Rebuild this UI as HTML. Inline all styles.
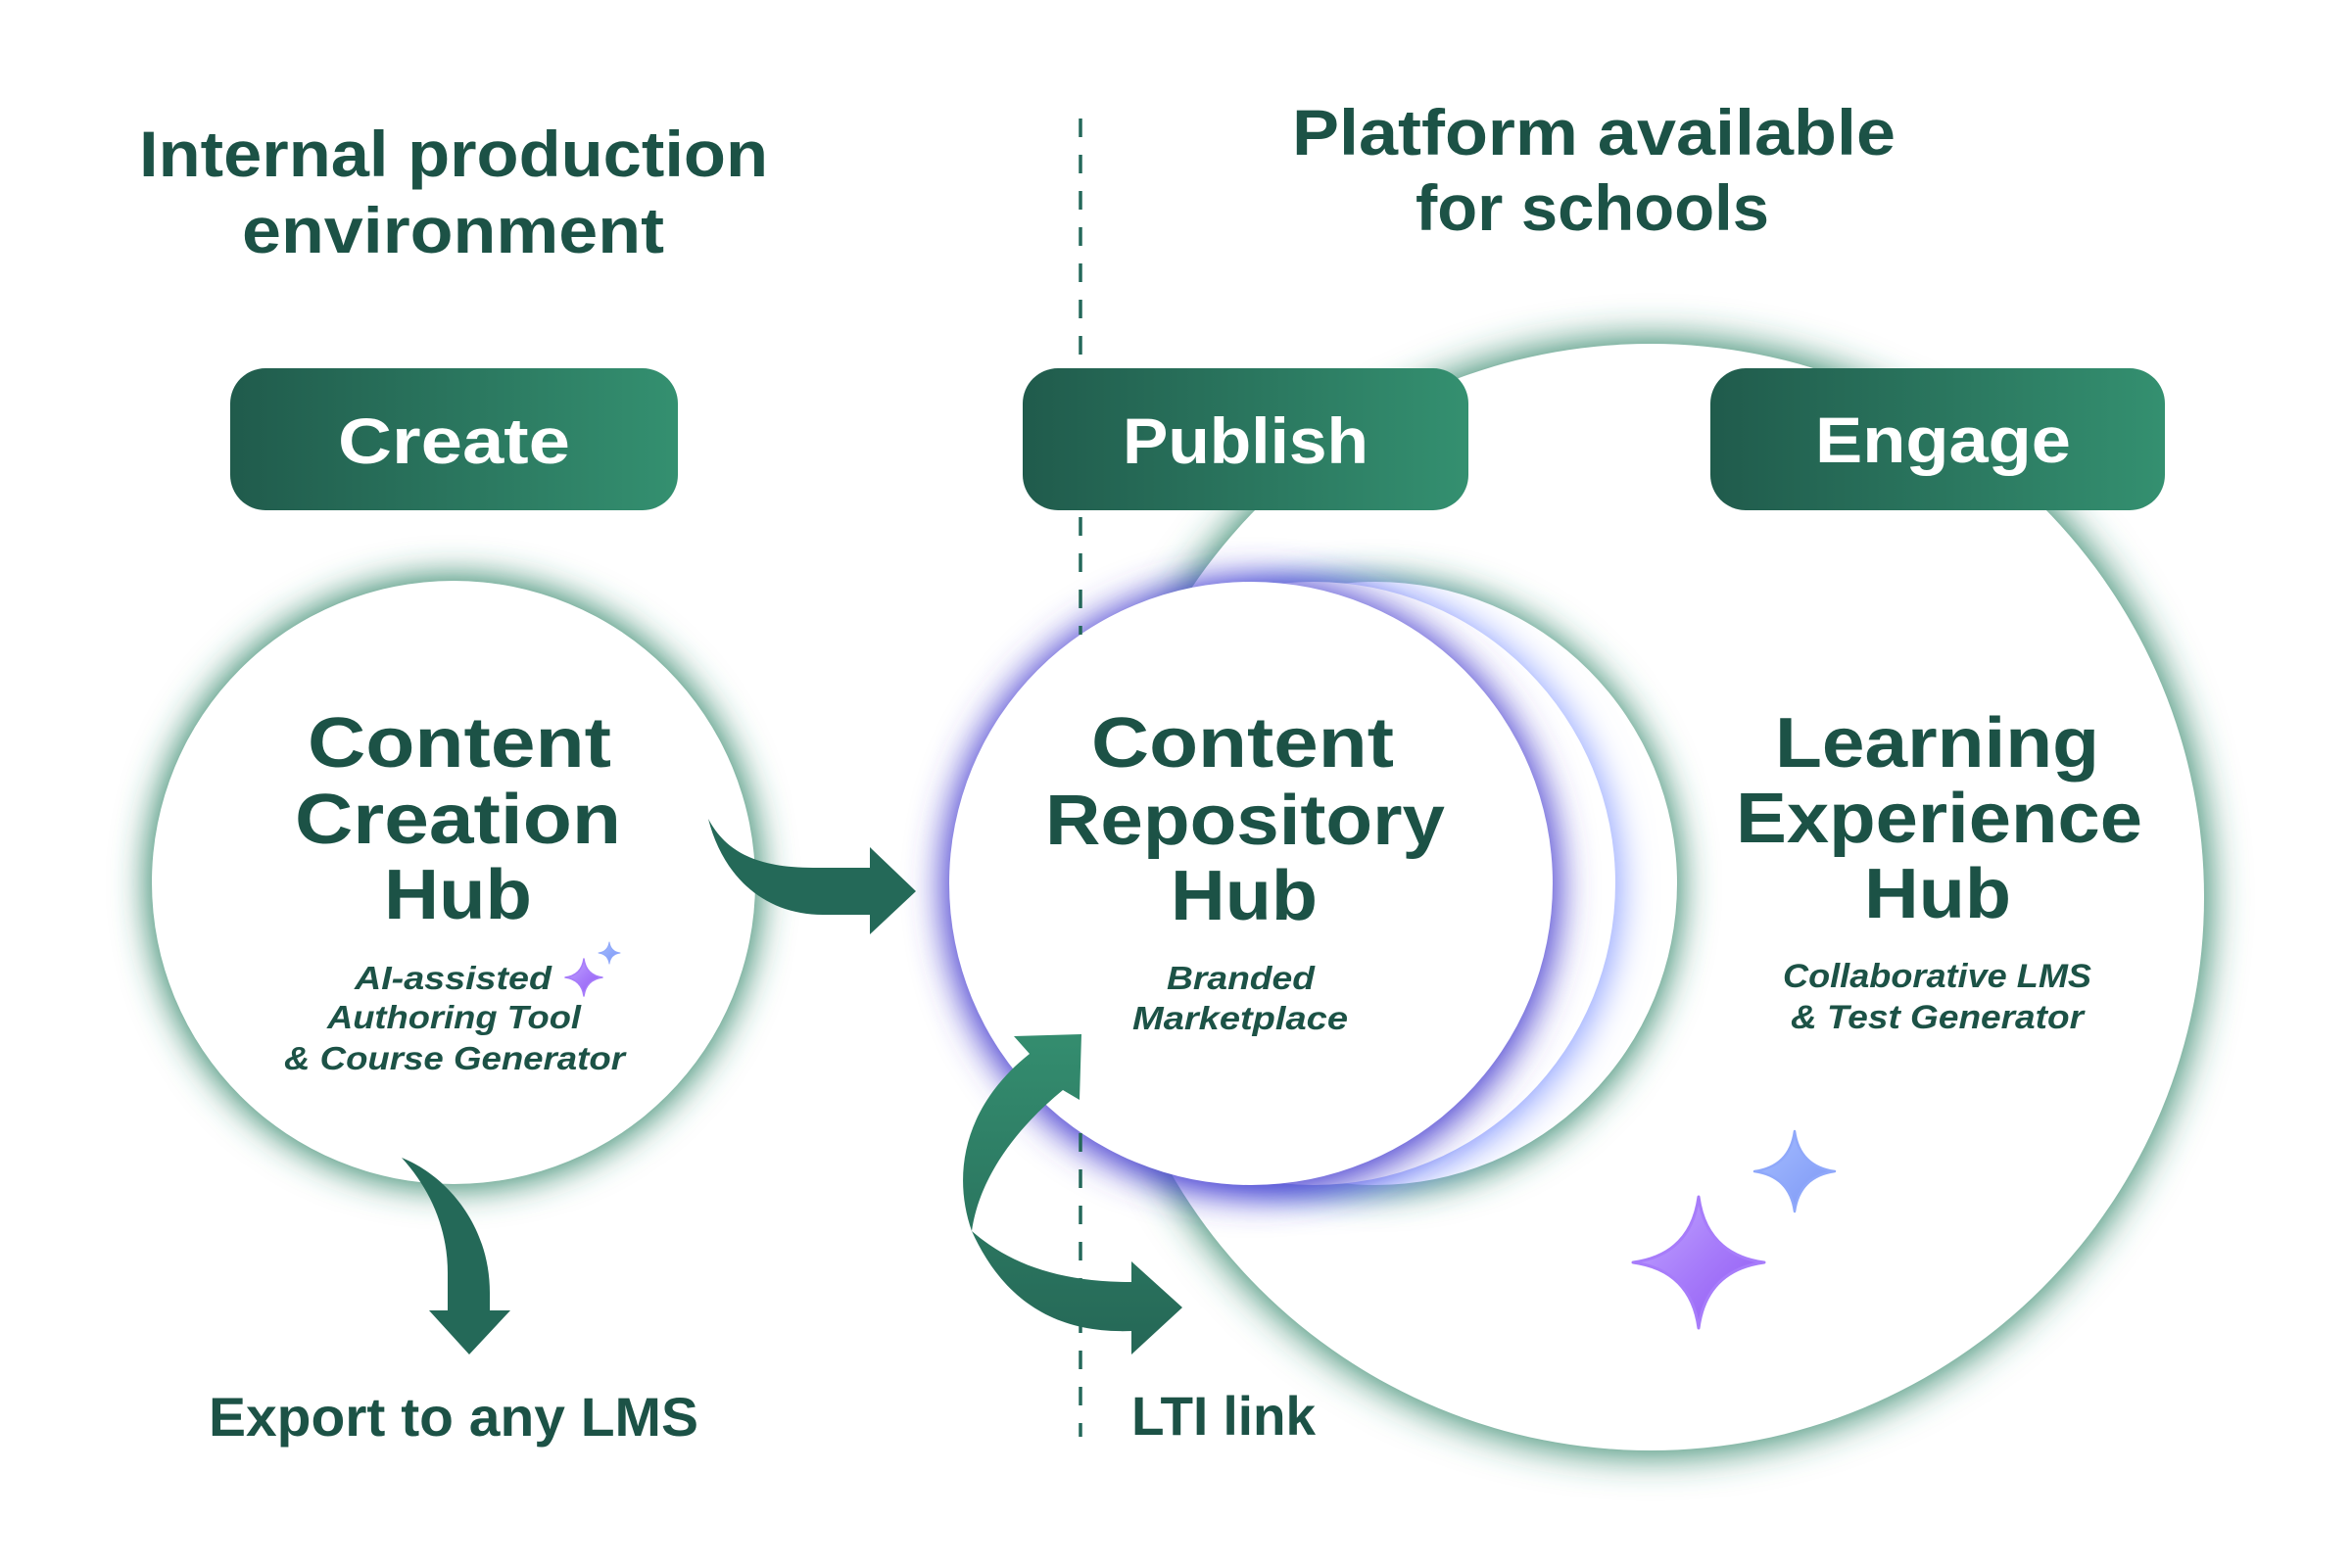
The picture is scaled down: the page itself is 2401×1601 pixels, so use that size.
<!DOCTYPE html>
<html>
<head>
<meta charset="utf-8">
<style>
html,body{margin:0;padding:0;background:#ffffff;}
svg{display:block;}
text{font-family:"Liberation Sans","DejaVu Sans",sans-serif;font-weight:700;}
.t{fill:#1c5246;}
.w{fill:#ffffff;}
.i{font-style:italic;}
</style>
</head>
<body>
<svg width="2401" height="1601" viewBox="0 0 2401 1601" xmlns="http://www.w3.org/2000/svg">
<defs>
  <filter id="blur" x="-50%" y="-50%" width="200%" height="200%">
    <feGaussianBlur stdDeviation="18"/>
  </filter>
  <filter id="blur2" x="-50%" y="-50%" width="200%" height="200%">
    <feGaussianBlur stdDeviation="20"/>
  </filter>
  <linearGradient id="box" x1="0" y1="0" x2="1" y2="0">
    <stop offset="0" stop-color="#205b4c"/>
    <stop offset="1" stop-color="#349070"/>
  </linearGradient>
  <linearGradient id="lti" gradientUnits="userSpaceOnUse" x1="0" y1="1056" x2="0" y2="1383">
    <stop offset="0" stop-color="#348d6f"/>
    <stop offset="1" stop-color="#256756"/>
  </linearGradient>
  <linearGradient id="spP" x1="0" y1="0" x2="1" y2="1">
    <stop offset="0" stop-color="#c4aaff"/>
    <stop offset="0.5" stop-color="#a77cfa"/>
    <stop offset="1" stop-color="#8f55f2"/>
  </linearGradient>
  <linearGradient id="spB" x1="0" y1="0" x2="1" y2="1">
    <stop offset="0" stop-color="#a6beff"/>
    <stop offset="1" stop-color="#7b95f5"/>
  </linearGradient>
</defs>

<rect x="0" y="0" width="2401" height="1601" fill="#ffffff"/>

<!-- Big circle: Learning Experience Hub -->
<circle cx="1685" cy="916" r="569" fill="#2e8468" filter="url(#blur2)"/>
<circle cx="1685" cy="916" r="565" fill="#ffffff"/>

<!-- Left circle: Content Creation Hub -->
<circle cx="463" cy="901" r="312" fill="#2e8468" filter="url(#blur)"/>
<circle cx="463" cy="901" r="308" fill="#ffffff"/>

<!-- Stack of repository circles -->
<circle cx="1404" cy="904" r="311" fill="#2e8468" filter="url(#blur)"/>
<circle cx="1404" cy="902" r="308" fill="#ffffff"/>
<circle cx="1341" cy="906" r="312" fill="#8a9eff" filter="url(#blur)"/>
<circle cx="1341" cy="902" r="308" fill="#ffffff"/>
<circle cx="1277" cy="906" r="315" fill="#4a3fd0" filter="url(#blur)"/>
<circle cx="1277" cy="902" r="308" fill="#ffffff"/>

<!-- Dashed separator -->
<line x1="1103" y1="121" x2="1103" y2="648" stroke="#24685a" stroke-width="3.5" stroke-dasharray="19 18"/>
<line x1="1103" y1="1157" x2="1103" y2="1467" stroke="#24685a" stroke-width="3.5" stroke-dasharray="19 18"/>

<!-- Headings -->
<text class="t" x="142" y="180" font-size="66" textLength="642" lengthAdjust="spacingAndGlyphs">Internal production</text>
<text class="t" x="247" y="258" font-size="66" textLength="431" lengthAdjust="spacingAndGlyphs">environment</text>
<text class="t" x="1319" y="158" font-size="66" textLength="616" lengthAdjust="spacingAndGlyphs">Platform available</text>
<text class="t" x="1445" y="235" font-size="66" textLength="361" lengthAdjust="spacingAndGlyphs">for schools</text>

<!-- Boxes -->
<rect x="235" y="376" width="457" height="145" rx="36" ry="36" fill="url(#box)"/>
<text class="w" x="345" y="473" font-size="66" textLength="237" lengthAdjust="spacingAndGlyphs">Create</text>
<rect x="1044" y="376" width="455" height="145" rx="36" ry="36" fill="url(#box)"/>
<text class="w" x="1146" y="473" font-size="66" textLength="251" lengthAdjust="spacingAndGlyphs">Publish</text>
<rect x="1746" y="376" width="464" height="145" rx="36" ry="36" fill="url(#box)"/>
<text class="w" x="1853" y="472" font-size="66" textLength="261" lengthAdjust="spacingAndGlyphs">Engage</text>

<!-- Left hub text -->
<text class="t" x="314" y="783" font-size="72" textLength="310" lengthAdjust="spacingAndGlyphs">Content</text>
<text class="t" x="301" y="861" font-size="72" textLength="333" lengthAdjust="spacingAndGlyphs">Creation</text>
<text class="t" x="392" y="938" font-size="72" textLength="151" lengthAdjust="spacingAndGlyphs">Hub</text>
<text class="t i" x="362" y="1010" font-size="33" textLength="201" lengthAdjust="spacingAndGlyphs">AI-assisted</text>
<text class="t i" x="334" y="1050" font-size="33" textLength="259" lengthAdjust="spacingAndGlyphs">Authoring Tool</text>
<text class="t i" x="290" y="1092" font-size="33" textLength="348" lengthAdjust="spacingAndGlyphs">&amp; Course Generator</text>

<!-- Middle hub text -->
<text class="t" x="1114" y="783" font-size="72" textLength="309" lengthAdjust="spacingAndGlyphs">Content</text>
<text class="t" x="1067" y="862" font-size="72" textLength="408" lengthAdjust="spacingAndGlyphs">Repository</text>
<text class="t" x="1195" y="939" font-size="72" textLength="150" lengthAdjust="spacingAndGlyphs">Hub</text>
<text class="t i" x="1191" y="1010" font-size="33" textLength="151" lengthAdjust="spacingAndGlyphs">Branded</text>
<text class="t i" x="1156" y="1051" font-size="33" textLength="220" lengthAdjust="spacingAndGlyphs">Marketplace</text>

<!-- Right hub text -->
<text class="t" x="1812" y="783" font-size="72" textLength="331" lengthAdjust="spacingAndGlyphs">Learning</text>
<text class="t" x="1772" y="860" font-size="72" textLength="415" lengthAdjust="spacingAndGlyphs">Experience</text>
<text class="t" x="1903" y="937" font-size="72" textLength="150" lengthAdjust="spacingAndGlyphs">Hub</text>
<text class="t i" x="1820" y="1008" font-size="34" textLength="315" lengthAdjust="spacingAndGlyphs">Collaborative LMS</text>
<text class="t i" x="1828" y="1050" font-size="34" textLength="299" lengthAdjust="spacingAndGlyphs">&amp; Test Generator</text>

<!-- Bottom labels -->
<text class="t" x="213" y="1466" font-size="56" textLength="500" lengthAdjust="spacingAndGlyphs">Export to any LMS</text>
<text class="t" x="1155" y="1465" font-size="56" textLength="188" lengthAdjust="spacingAndGlyphs">LTI link</text>

<!-- Arrows -->
<path d="M723,836 C740,868 770,886 830,886 L888,886 L888,865 L935,910 L888,954 L888,934 L840,934 C780,934 738,895 723,836 Z" fill="#246958"/>
<path d="M410,1182 C455,1200 500,1250 500,1320 L500,1338 L521,1338 L479,1383 L438,1338 L457,1338 L457,1300 C457,1255 440,1215 410,1182 Z" fill="#246958"/>
<path d="M992,1257 C972,1200 983,1130 1051,1076 L1035,1058 L1104,1056 L1102,1123 L1085,1113 C1040,1150 1000,1200 992,1257 Z
         M992,1257 C1030,1290 1080,1309 1155,1309 L1155,1288 L1207,1335 L1155,1383 L1155,1359 C1080,1362 1025,1330 992,1257 Z" fill="url(#lti)"/>

<!-- Sparkles -->
<path d="M596,979 Q598.3,995.7 615,998 Q598.3,1000.3 596,1017 Q593.7,1000.3 577,998 Q593.7,995.7 596,979 Z" fill="url(#spP)" stroke="#a77cfa" stroke-width="1.5" stroke-linejoin="round"/>
<path d="M622,962 Q623.3,971.7 633,973 Q623.3,974.3 622,984 Q620.7,974.3 611,973 Q620.7,971.7 622,962 Z" fill="url(#spB)" stroke="#8fa8fa" stroke-width="1" stroke-linejoin="round"/>
<path d="M1734,1222 Q1742,1281 1801,1289 Q1742,1297 1734,1356 Q1726,1297 1667,1289 Q1726,1281 1734,1222 Z" fill="url(#spP)" stroke="#a77cfa" stroke-width="3" stroke-linejoin="round"/>
<path d="M1832,1155 Q1837,1191 1873,1196 Q1837,1201 1832,1237 Q1827,1201 1791,1196 Q1827,1191 1832,1155 Z" fill="url(#spB)" stroke="#8fa8fa" stroke-width="2.5" stroke-linejoin="round"/>
</svg>
</body>
</html>
